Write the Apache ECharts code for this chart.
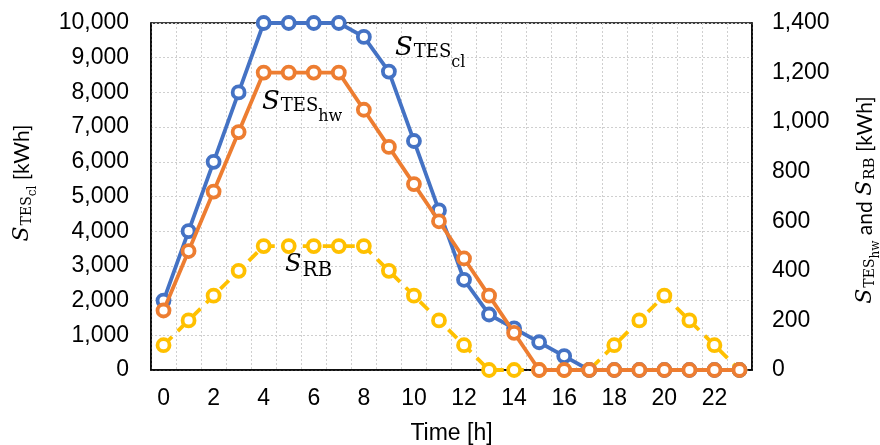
<!DOCTYPE html>
<html>
<head>
<meta charset="utf-8">
<script src="https://cdn.jsdelivr.net/npm/echarts@6/dist/echarts.min.js"></script>
<style>html,body{margin:0;padding:0;background:#fff}#c{width:880px;height:445px}</style>
</head>
<body>
<div id="c"></div>
<script>
var hours = ['0','1','2','3','4','5','6','7','8','9','10','11','12','13','14','15','16','17','18','19','20','21','22','23'];
var tesCl = [2000,4000,6000,8000,10000,10000,10000,10000,9600,8600,6600,4600,2600,1600,1200,800,400,0,0,0,0,0,0,0];
var tesHw = [240,480,720,960,1200,1200,1200,1200,1050,900,750,600,450,300,150,0,0,0,0,0,0,0,0,0];
var rb = [100,200,300,400,500,500,500,500,500,400,300,200,100,0,0,0,0,0,100,200,300,200,100,0];
var leftTicks = {min:0, max:10000, interval:1000};
var rightTicks = {min:0, max:1400, interval:200};

var SANS = 'Liberation Sans';
var NAMESANS = 'Lato';
var SERIF = 'DejaVu Serif';
function fmt(v){ return v.toLocaleString('en-US'); }

var richBig = {
  s:{fontFamily:SERIF,fontStyle:'italic',fontSize:26,verticalAlign:'top',padding:[0,1,0,0],color:'#000'},
  sub:{fontFamily:SERIF,fontSize:18,verticalAlign:'top',padding:[8,0,0,0],color:'#000'},
  subsub:{fontFamily:SERIF,fontSize:16,verticalAlign:'top',padding:[20,0,0,0],color:'#000'}
};
var richRB = {
  s:{fontFamily:SERIF,fontStyle:'italic',fontSize:24,verticalAlign:'top',padding:[0,1,0,0],color:'#000'},
  sub:{fontFamily:SERIF,fontSize:20,verticalAlign:'top',padding:[8,0,0,0],color:'#000'}
};
var richAxis = {
  s:{fontFamily:SERIF,fontStyle:'italic',fontSize:22,verticalAlign:'top',padding:[0,1,0,0],color:'#000'},
  sub:{fontFamily:SERIF,fontSize:14,verticalAlign:'top',padding:[9,0,0,0],color:'#000'},
  subsub:{fontFamily:SERIF,fontSize:12,verticalAlign:'top',padding:[16,0,0,0],color:'#000'},
  sub2:{fontFamily:SERIF,fontSize:15,verticalAlign:'top',padding:[9,0,0,0],color:'#000'},
  t:{fontFamily:NAMESANS,fontSize:21,verticalAlign:'top',padding:[1,0,0,0],color:'#000'}
};

var chart = echarts.init(document.getElementById('c'));
var seriesBase = { type:'line', symbol:'circle', symbolSize:12, showSymbol:true, animation:false };
chart.setOption({
  backgroundColor:'#fff',
  animation:false,
  grid:{left:151, right:128, top:23, bottom:75, containLabel:false, outerBoundsMode:'none',
        show:true, borderColor:'#000', borderWidth:1.5, backgroundColor:'transparent'},
  xAxis:{
    type:'category', data:hours, boundaryGap:true,
    axisLine:{lineStyle:{color:'#000', width:1.5}},
    axisTick:{show:false},
    axisLabel:{interval:1, color:'#000', fontFamily:SANS, fontSize:23, margin:17},
    splitLine:{show:true, interval:0, lineStyle:{color:'#cfcfcf', type:[2,2], width:1}},
    name:'Time [h]', nameLocation:'middle', nameGap:52,
    nameTextStyle:{color:'#000', fontFamily:SANS, fontSize:23}
  },
  yAxis:[{
    type:'value', min:leftTicks.min, max:leftTicks.max, interval:leftTicks.interval,
    axisLine:{show:true, lineStyle:{color:'#000', width:1.5}},
    axisTick:{show:false},
    axisLabel:{color:'#000', fontFamily:SANS, fontSize:23, margin:22, formatter:fmt},
    splitLine:{show:true, lineStyle:{color:'#cfcfcf', type:[2,2], width:1}}
  },{
    type:'value', min:rightTicks.min, max:rightTicks.max, interval:rightTicks.interval,
    axisLine:{show:true, lineStyle:{color:'#000', width:1.5}},
    axisTick:{show:false},
    axisLabel:{color:'#000', fontFamily:SANS, fontSize:23, margin:20, formatter:fmt},
    splitLine:{show:false}
  }],
  series:[
    Object.assign({}, seriesBase, {
      name:'TEScl', data:tesCl, yAxisIndex:0, z:3,
      lineStyle:{color:'#4472C4', width:3.8},
      itemStyle:{color:'#fff', borderColor:'#4472C4', borderWidth:3.8}
    }),
    Object.assign({}, seriesBase, {
      name:'RB', data:rb, yAxisIndex:1, z:2,
      lineStyle:{color:'#FFC000', width:3.8, type:[12,8]},
      itemStyle:{color:'#fff', borderColor:'#FFC000', borderWidth:3.8}
    }),
    Object.assign({}, seriesBase, {
      name:'TEShw', data:tesHw, yAxisIndex:1, z:4,
      lineStyle:{color:'#ED7D31', width:3.8},
      itemStyle:{color:'#fff', borderColor:'#ED7D31', borderWidth:3.8}
    })
  ],
  graphic:[
    {type:'text', left:395, top:35, z:10, style:{text:'{s|S}{sub|TES}{subsub|cl}', rich:richBig}},
    {type:'text', left:262, top:89, z:10, style:{text:'{s|S}{sub|TES}{subsub|hw}', rich:richBig}},
    {type:'text', left:285, top:253, z:10, style:{text:'{s|S}{sub|RB}', rich:richRB}},
    {type:'text', x:25, y:183, rotation:Math.PI/2, z:10,
     style:{text:'{s|S}{sub|TES}{subsub|cl}{t| [kWh]}', rich:richAxis, align:'center', verticalAlign:'middle'}},
    {type:'text', x:868, y:200, rotation:Math.PI/2, z:10,
     style:{text:'{s|S}{sub|TES}{subsub|hw}{t| and }{s|S}{sub2|RB}{t| [kWh]}', rich:richAxis, align:'center', verticalAlign:'middle'}}
  ]
});
</script>
</body>
</html>
